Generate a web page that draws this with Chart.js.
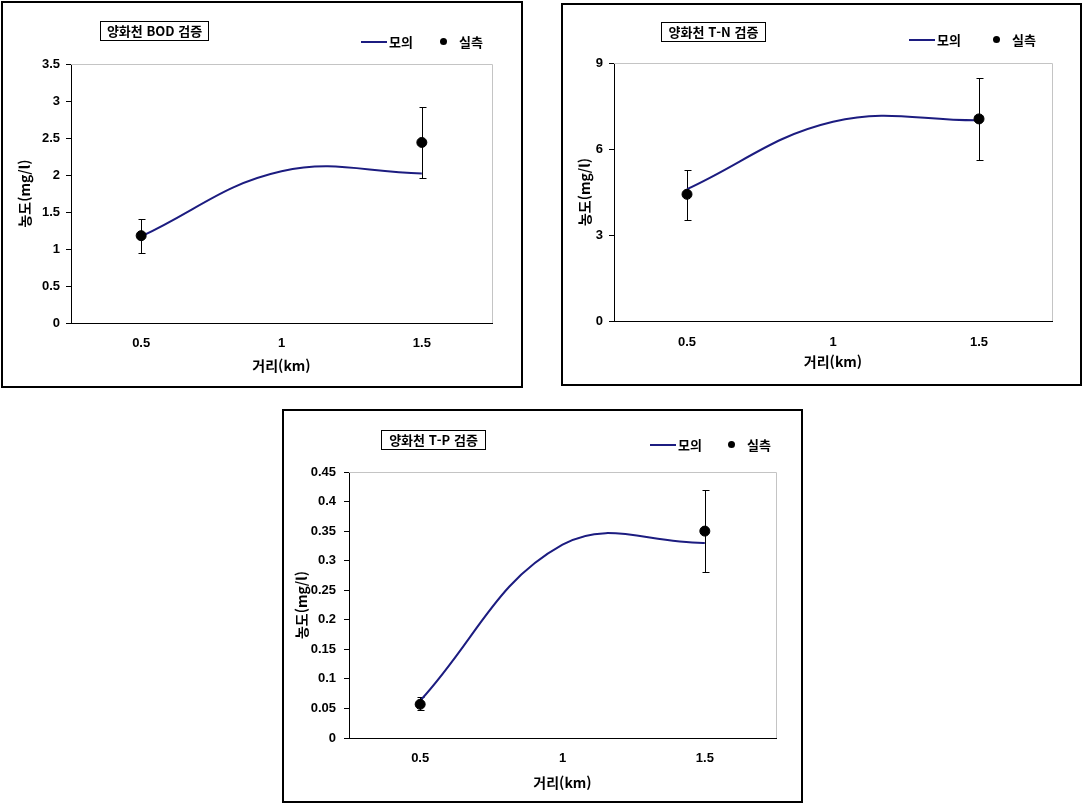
<!DOCTYPE html>
<html lang="ko">
<head>
<meta charset="UTF-8">
<title>양화천 수질 검증</title>
<script src="https://cdn.jsdelivr.net/npm/chart.js"></script>
<style>
  body { margin: 0; background: #fff; width: 1086px; height: 805px; position: relative; overflow: hidden; font-family: 'Noto Sans CJK KR', sans-serif; }
  .frame { position: absolute; box-sizing: border-box; border: 2px solid #000; pointer-events: none; }
  .canvas-box { position: absolute; }
  .title-box { position: absolute; box-sizing: border-box; border: 1px solid #000; height: 20px; font-size: 13px; font-weight: bold; line-height: 18px; text-align: center; white-space: nowrap; background: #fff; }
  .lg-line { position: absolute; width: 26px; height: 2px; background: #1c1c80; }
  .lg-dot { position: absolute; width: 7px; height: 7px; border-radius: 50%; background: #000; }
  .lg-text { position: absolute; font-size: 13px; font-weight: bold; line-height: 18px; white-space: nowrap; }
</style>
</head>
<body>
<script>
// x categories (거리, km)
const distLabels = ['0.5', '1', '1.5'];

// BOD
const bodSim = [1.17, 2.05, 2.02];
const bodObs = [1.18, null, 2.44];
const bodObsLow = [0.94, null, 1.96];
const bodObsHigh = [1.40, null, 2.92];

// T-N
const tnSim = [4.6, 6.95, 7.0];
const tnObs = [4.42, null, 7.05];
const tnObsLow = [3.53, null, 5.61];
const tnObsHigh = [5.28, null, 8.47];

// T-P
const tpSim = [0.063, 0.327, 0.33];
const tpObs = [0.057, null, 0.35];
const tpObsLow = [0.047, null, 0.28];
const tpObsHigh = [0.069, null, 0.419];

const chartTitles = ['양화천 BOD 검증', '양화천 T-N 검증', '양화천 T-P 검증'];
const seriesNames = ['모의', '실측'];
const yMaxes = [3.5, 9, 0.45];
const ySteps = [0.5, 3, 0.05];
const xTitle = '거리(km)';
const yTitle = '농도(mg/l)';

// 배치 (page px)
const boxes = [
    { frame: [1, 1, 522, 387], pad: { top: 63, right: 31 }, yW: 70, xH: 65, yTitlePad: 15.6, xTitlePad: 13.6, yTickPad: 6, xTickPad: 12.5, titleBox: [100, 21, 109], legend: [361, 42, 443] },
    { frame: [561, 3, 521, 383], pad: { top: 60, right: 30 }, yW: 53, xH: 65, yTitlePad: 15.6, xTitlePad: 16, yTickPad: 6, xTickPad: 14, titleBox: [661, 22, 105], legend: [909, 40, 996] },
    { frame: [282, 409, 521, 394], pad: { top: 63, right: 27 }, yW: 67, xH: 65, yTitlePad: 11.6, xTitlePad: 12, yTickPad: 8, xTickPad: 12.5, titleBox: [381, 430, 105], legend: [650, 445, 731] }
];

const series = [
    [bodSim, bodObs, bodObsLow, bodObsHigh],
    [tnSim, tnObs, tnObsLow, tnObsHigh],
    [tpSim, tpObs, tpObsLow, tpObsHigh]
];

Chart.defaults.font.family = "'Noto Sans CJK KR', sans-serif";
Chart.defaults.color = '#000';

// 오차막대
const errorBars = {
    id: 'errorBars',
    beforeDatasetsDraw(chart, args, opts) {
        const meta = chart.getDatasetMeta(0);
        const yScale = chart.scales.y;
        const ctx = chart.ctx;
        ctx.save();
        ctx.strokeStyle = '#000';
        ctx.lineWidth = 1;
        opts.low.forEach((lo, i) => {
            if (lo == null) return;
            const x = Math.round(meta.data[i].x) + 0.5;
            const y1 = Math.round(yScale.getPixelForValue(lo)) + 0.5;
            const y2 = Math.round(yScale.getPixelForValue(opts.high[i])) + 0.5;
            ctx.beginPath();
            ctx.moveTo(x, y1); ctx.lineTo(x, y2);
            ctx.moveTo(x - 3, y1); ctx.lineTo(x + 4, y1);
            ctx.moveTo(x - 3, y2); ctx.lineTo(x + 4, y2);
            ctx.stroke();
        });
        ctx.restore();
    }
};

// 그림 영역 회색 테두리 (위, 오른쪽)
const plotFrame = {
    id: 'plotFrame',
    beforeDatasetsDraw(chart) {
        const { ctx, chartArea: a } = chart;
        ctx.save();
        ctx.strokeStyle = '#c4c4c4';
        ctx.lineWidth = 1;
        ctx.beginPath();
        ctx.moveTo(a.left, Math.round(a.top) + 0.5);
        ctx.lineTo(Math.round(a.right) + 0.5, Math.round(a.top) + 0.5);
        ctx.lineTo(Math.round(a.right) + 0.5, a.bottom);
        ctx.stroke();
        ctx.restore();
    }
};

function addEl(cls, left, top, text, width) {
    const el = document.createElement('div');
    el.className = cls;
    el.style.left = left + 'px';
    el.style.top = top + 'px';
    if (width) el.style.width = width + 'px';
    if (text) el.textContent = text;
    document.body.appendChild(el);
    return el;
}

boxes.forEach((b, k) => {
    const [fx, fy, fw, fh] = b.frame;
    const box = addEl('canvas-box', fx, fy);
    box.style.width = fw + 'px';
    box.style.height = fh + 'px';
    const canvas = document.createElement('canvas');
    box.appendChild(canvas);
    const frame = addEl('frame', fx, fy);
    frame.style.width = fw + 'px';
    frame.style.height = fh + 'px';

    // 제목 상자
    addEl('title-box', b.titleBox[0], b.titleBox[1], chartTitles[k], b.titleBox[2]);

    // 범례
    const [lx, ly, dx] = b.legend;
    addEl('lg-line', lx, ly - 1);
    addEl('lg-text', lx + 28, ly - 9, seriesNames[0]);
    addEl('lg-dot', dx - 3.5, ly - 4.5);
    addEl('lg-text', dx + 16, ly - 9, seriesNames[1]);

    const [sim, obs, lo, hi] = series[k];
    new Chart(canvas.getContext('2d'), {
        type: 'line',
        data: {
            labels: distLabels,
            datasets: [{
                label: seriesNames[1],
                data: obs,
                showLine: false,
                pointRadius: 5,
                pointBackgroundColor: '#000',
                pointBorderColor: '#000',
                pointBorderWidth: 1
            }, {
                label: seriesNames[0],
                data: sim,
                borderColor: '#1c1c80',
                borderWidth: 2,
                tension: 0.4,
                pointRadius: 0,
                fill: false
            }]
        },
        options: {
            responsive: true,
            maintainAspectRatio: false,
            animation: false,
            events: [],
            layout: { padding: { top: b.pad.top, right: b.pad.right, bottom: 0, left: 0 } },
            plugins: {
                legend: { display: false },
                tooltip: { enabled: false },
                errorBars: { low: lo, high: hi }
            },
            scales: {
                x: {
                    type: 'category',
                    offset: true,
                    grid: { display: false, drawTicks: false },
                    border: { display: true, color: '#000', width: 1 },
                    ticks: { padding: b.xTickPad, color: '#000', font: { family: "'Liberation Sans', sans-serif", size: 13, weight: 'bold' } },
                    title: { display: true, text: xTitle, color: '#000', padding: { top: 0, bottom: b.xTitlePad }, font: { size: 14, weight: 'bold' } },
                    afterFit(scale) { scale.height = b.xH; }
                },
                y: {
                    min: 0,
                    max: yMaxes[k],
                    grid: { drawOnChartArea: false, drawTicks: true, tickLength: 5, color: '#000' },
                    border: { display: true, color: '#000', width: 1 },
                    ticks: {
                        stepSize: ySteps[k],
                        padding: b.yTickPad,
                        color: '#000',
                        font: { family: "'Liberation Sans', sans-serif", size: 13, weight: 'bold' },
                        callback: v => String(+v.toFixed(3))
                    },
                    title: { display: true, text: yTitle, color: '#000', padding: { top: b.yTitlePad, bottom: 0 }, font: { size: 14, weight: 'bold' } },
                    afterFit(scale) { scale.width = b.yW; }
                }
            }
        },
        plugins: [plotFrame, errorBars]
    });
});
</script>
</body>
</html>
